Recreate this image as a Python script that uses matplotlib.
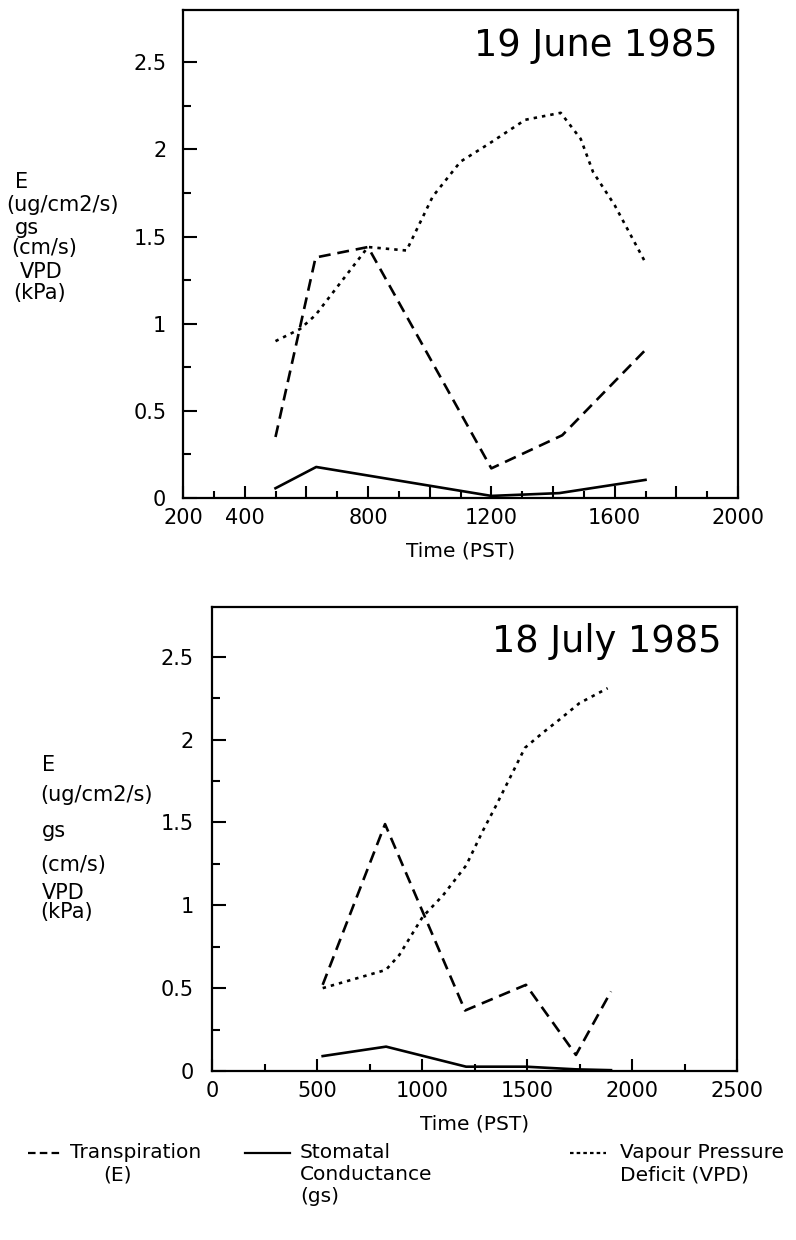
import matplotlib
matplotlib.use("Agg")
import matplotlib.pyplot as plt
from matplotlib.ticker import FixedLocator, FuncFormatter
from matplotlib.lines import Line2D

# ---------------- data ----------------
# Panel 1: 19 June 1985
june_E_time = [500, 630, 800, 1200, 1430, 1700]
june_E = [0.35, 1.38, 1.44, 0.17, 0.36, 0.85]
june_gs_time = [500, 632, 1200, 1420, 1700]
june_gs = [0.056, 0.178, 0.012, 0.028, 0.104]
june_vpd_time = [500, 580, 630, 800, 925, 1010, 1100, 1190, 1310, 1425, 1490, 1530, 1600, 1700]
june_vpd = [0.90, 0.97, 1.05, 1.44, 1.42, 1.73, 1.93, 2.03, 2.17, 2.21, 2.06, 1.87, 1.68, 1.35]

# Panel 2: 18 July 1985
july_E_time = [527, 824, 1205, 1495, 1733, 1900]
july_E = [0.52, 1.49, 0.365, 0.52, 0.097, 0.48]
july_gs_time = [527, 829, 1210, 1495, 1733, 1900]
july_gs = [0.09, 0.147, 0.026, 0.026, 0.01, 0.005]
july_vpd_time = [527, 828, 892, 1003, 1100, 1210, 1290, 1352, 1431, 1490, 1574, 1654, 1750, 1884]
july_vpd = [0.50, 0.61, 0.70, 0.93, 1.06, 1.24, 1.45, 1.60, 1.80, 1.95, 2.04, 2.12, 2.22, 2.31]

june_xticks_major = [200, 400, 600, 800, 1000, 1200, 1400, 1600, 1800, 2000]
june_xticks_minor = [300, 500, 700, 900, 1100, 1300, 1500, 1700, 1900]
june_xlabels_shown = [200, 400, 800, 1200, 1600, 2000]
july_xticks_major = [0, 500, 1000, 1500, 2000, 2500]
july_xticks_minor = [250, 750, 1250, 1750, 2250]
yticks_major = [0, 0.5, 1, 1.5, 2, 2.5]
yticks_minor = [0.25, 0.75, 1.25, 1.75, 2.25]

titles = ["19 June 1985", "18 July 1985"]
xlabel = "Time (PST)"
legend_labels = ["Transpiration\n(E)", "Stomatal\nConductance\n(gs)", "Vapour Pressure\nDeficit (VPD)"]

# ---------------- style ----------------
plt.rcParams['font.family'] = ['DejaVu Sans']
FS_TICK = 15
FS_LAB = 14.5
FS_YL = 15
LW = 1.9
dash_style = (0, (4.5, 2.6))
dot_style = (0, (1.3, 1.9))

fig = plt.figure(figsize=(7.96, 12.4), dpi=100)
W, H = 796, 1240

def ax_rect(l, t, r, b):
    return [l / W, 1 - b / H, (r - l) / W, (b - t) / H]

ax1 = fig.add_axes(ax_rect(183, 10, 738, 498))
ax2 = fig.add_axes(ax_rect(212, 607, 737, 1071))

def style_axis(ax, xlim, xmaj, xmin, xshown, ypad):
    ax.set_xlim(*xlim)
    ax.set_ylim(0, 2.8)
    for s in ax.spines.values():
        s.set_linewidth(1.6)
        s.set_color('black')
    ax.xaxis.set_major_locator(FixedLocator(xmaj))
    ax.xaxis.set_minor_locator(FixedLocator(xmin))
    ax.xaxis.set_major_formatter(FuncFormatter(lambda v, p: f"{int(v)}" if int(round(v)) in xshown else ""))
    ax.yaxis.set_major_locator(FixedLocator(yticks_major))
    ax.yaxis.set_minor_locator(FixedLocator(yticks_minor))
    ax.yaxis.set_major_formatter(FuncFormatter(lambda v, p: f"{v:g}"))
    ax.tick_params(axis='both', which='both', direction='in', top=False, right=False,
                   labelsize=FS_TICK, width=1.5, color='black')
    ax.tick_params(axis='x', which='major', length=9, pad=7)
    ax.tick_params(axis='x', which='minor', length=5)
    ax.tick_params(axis='y', which='major', length=10, pad=ypad)
    ax.tick_params(axis='y', which='minor', length=6)
    ax.set_xlabel(xlabel, fontsize=FS_LAB, labelpad=10)

style_axis(ax1, (200, 2000), june_xticks_major, june_xticks_minor, june_xlabels_shown, 12)
style_axis(ax2, (0, 2500), july_xticks_major, july_xticks_minor, july_xticks_major, 13)

ax1.plot(june_E_time, june_E, color='black', lw=LW, linestyle=dash_style)
ax1.plot(june_gs_time, june_gs, color='black', lw=LW, linestyle='-')
ax1.plot(june_vpd_time, june_vpd, color='black', lw=LW, linestyle=dot_style)

ax2.plot(july_E_time, july_E, color='black', lw=LW, linestyle=dash_style)
ax2.plot(july_gs_time, july_gs, color='black', lw=LW, linestyle='-')
ax2.plot(july_vpd_time, july_vpd, color='black', lw=LW, linestyle=dot_style)

ax1.text(0.964, 0.966, titles[0], transform=ax1.transAxes, ha='right', va='top', fontsize=26.5)
ax2.text(0.97, 0.966, titles[1], transform=ax2.transAxes, ha='right', va='top', fontsize=26.5)

# y-axis label blocks
def fy(py):
    return 1 - py / H

def fx(px):
    return px / W

top_lab = [("E", 15, 182), ("(ug/cm2/s)", 6, 205), ("gs", 15, 228), ("(cm/s)", 11, 248),
           ("VPD", 20, 272), ("(kPa)", 13, 293)]
for t, x, y in top_lab:
    fig.text(fx(x), fy(y), t, ha='left', va='center', fontsize=FS_YL)

bot_lab = [("E", 42, 765), ("(ug/cm2/s)", 40, 795), ("gs", 42, 831), ("(cm/s)", 40, 865),
           ("VPD", 42, 893), ("(kPa)", 40, 912)]
for t, x, y in bot_lab:
    fig.text(fx(x), fy(y), t, ha='left', va='center', fontsize=FS_YL)

# legend (drawn manually)
leg_dash = (0, (3.4, 1.9))
leg_dot = (0, (1.6, 1.4))
leg_items = [
    (leg_dash, 28, 62, 70, 103),
    ('-', 245, 290, 300, 300),
    (leg_dot, 570, 606, 620, 620),
]
for (ls, x0, x1, tx, tx2), lab in zip(leg_items, legend_labels):
    fig.add_artist(Line2D([fx(x0), fx(x1)], [fy(1153), fy(1153)], transform=fig.transFigure,
                          color='black', lw=1.6, linestyle=ls))
    lines = lab.split("\n")
    fig.text(fx(tx), fy(1153), lines[0], ha='left', va='center', fontsize=FS_LAB)
    for i, l in enumerate(lines[1:]):
        fig.text(fx(tx2), fy(1175 + 22 * i), l, ha='left', va='center', fontsize=FS_LAB)

fig.savefig("out.png", dpi=100, facecolor='white')
